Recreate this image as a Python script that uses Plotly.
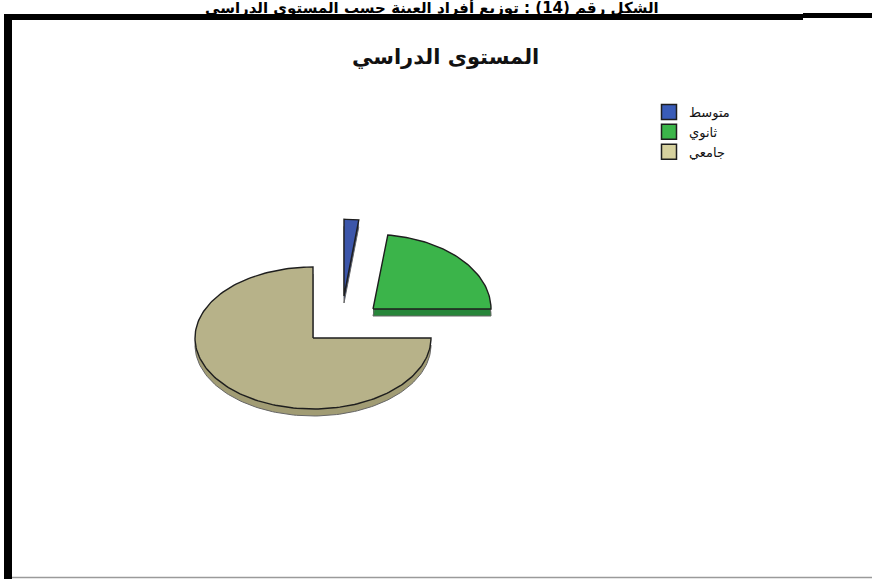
import numpy as np
import plotly.graph_objects as go

# ---- data ----
categories = ["متوسط", "ثانوي", "جامعي"]
values = [2, 23, 75]
chart_title = "المستوى الدراسي"
caption = "الشكل رقم (14) : توزيع أفراد العينة حسب المستوى الدراسي"

# ---- style ----
top_colors = ["#3c56aa", "#3bb44a", "#b7b289"]
side_colors = ["#283c7c", "#27863a", "#a19c74"]
legend_colors = ["#3a5cb8", "#3cb54a", "#d6d19e"]
outline = "#1e1e1e"

W, H = 872, 579
CX, CY = 313, 338        # base centre in pixel frame
RX, RY = 118, 71         # ellipse radii (tilted pie)
THICK = 7                # pie thickness in px
offsets = [(31, -42), (60, -29), (0, 0)]   # exploded positions per slice
ry_scale = [1.08, 1.05, 1.0]               # slight perspective per slice

fig = go.Figure()

total = float(sum(values))
cum = np.concatenate([[0.0], np.cumsum(values)]) / total

def slice_shape(i, dy=0.0):
    a0, a1 = cum[i] * 2 * np.pi, cum[i + 1] * 2 * np.pi
    n = max(8, int((a1 - a0) / (2 * np.pi) * 240))
    th = np.linspace(a0, a1, n)
    ox, oy = offsets[i]
    cx, cy = CX + ox, CY + oy + dy
    ry = RY * ry_scale[i]
    xs = [cx] + list(cx + RX * np.sin(th)) + [cx]
    ys = [cy] + list(cy - ry * np.cos(th)) + [cy]
    return xs, ys

for i in range(len(values)):
    # side wall: stacked shifted copies
    sx, sy = [], []
    for k in range(1, THICK + 1):
        xs, ys = slice_shape(i, k)
        sx += xs + [None]
        sy += ys + [None]
    fig.add_trace(go.Scatter(x=sx, y=sy, mode="lines", fill="toself",
                             fillcolor=side_colors[i], line=dict(width=0),
                             showlegend=False, hoverinfo="skip"))
    bx, by = slice_shape(i, THICK)
    fig.add_trace(go.Scatter(x=bx, y=by, mode="lines",
                             line=dict(color="#666", width=1),
                             showlegend=False, hoverinfo="skip"))
    tx, ty = slice_shape(i, 0)
    fig.add_trace(go.Scatter(x=tx, y=ty, mode="lines", fill="toself",
                             fillcolor=top_colors[i],
                             line=dict(color=outline, width=1.4),
                             showlegend=False,
                             name=categories[i],
                             hovertemplate=f"{categories[i]}: {values[i]}%<extra></extra>"))

# legend entries
for i, c in enumerate(categories):
    fig.add_trace(go.Scatter(x=[None], y=[None], mode="markers", name=c,
                             marker=dict(symbol="square", size=15,
                                         color=legend_colors[i],
                                         line=dict(color=outline, width=1.5))))

shapes = [
    # top thick border
    dict(type="rect", xref="x", yref="y", x0=4, x1=803, y0=14, y1=20,
         fillcolor="black", line=dict(width=0)),
    dict(type="rect", xref="x", yref="y", x0=803, x1=872, y0=13, y1=18,
         fillcolor="black", line=dict(width=0)),
    # left thick border
    dict(type="rect", xref="x", yref="y", x0=4, x1=12, y0=14, y1=579,
         fillcolor="black", line=dict(width=0)),
    # bottom thin border
    dict(type="line", xref="x", yref="y", x0=12, x1=872, y0=577.5, y1=577.5,
         line=dict(color="#9a9a9a", width=1.5)),
]

annotations = [
    dict(text=f"<b>{caption}</b>", xref="x", yref="y", x=432, y=7,
         xanchor="center", yanchor="middle", showarrow=False,
         font=dict(family="DejaVu Sans", size=15, color="black")),
    dict(text=f"<b>{chart_title}</b>", xref="x", yref="y", x=445, y=57,
         xanchor="center", yanchor="middle", showarrow=False,
         font=dict(family="DejaVu Sans", size=21, color="#111")),
]

fig.update_layout(
    width=W, height=H,
    margin=dict(l=0, r=0, t=0, b=0),
    paper_bgcolor="white", plot_bgcolor="white",
    xaxis=dict(range=[0, W], visible=False, fixedrange=True),
    yaxis=dict(range=[H, 0], visible=False, fixedrange=True),
    shapes=shapes, annotations=annotations,
    showlegend=True,
    legend=dict(x=649 / W, y=1 - 97 / H, xanchor="left", yanchor="top",
                bgcolor="rgba(0,0,0,0)", tracegroupgap=0,
                font=dict(family="DejaVu Sans", size=13, color="#111")),
)

fig.write_html("out.html")
